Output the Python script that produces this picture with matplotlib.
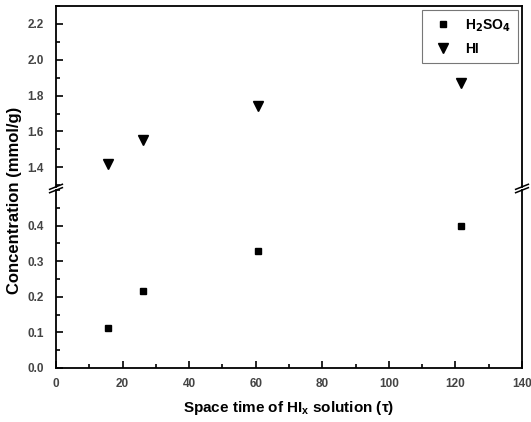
import numpy as np
import matplotlib.pyplot as plt
from matplotlib.ticker import MultipleLocator

plt.rcParams['font.family'] = ['Liberation Sans', 'DejaVu Sans']
plt.rcParams['font.weight'] = 'bold'

# data
space_time = [15.5, 26, 60.7, 121.8]
h2so4 = [0.113, 0.215, 0.328, 0.400]
hi = [1.42, 1.555, 1.74, 1.87]

fig = plt.figure(figsize=(5.31, 4.22), dpi=100)
W, H = 531, 422
left, right = 56 / W, 522 / W
ax_top = fig.add_axes([left, 1 - 187 / H, right - left, (187 - 6) / H])
ax_bot = fig.add_axes([left, 1 - 368 / H, right - left, (368 - 190) / H])

for ax in (ax_top, ax_bot):
    ax.plot(space_time, h2so4, 's', color='black', markersize=5, label='H$_2$SO$_4$')
    ax.plot(space_time, hi, 'v', color='black', markersize=7, label='HI')
    ax.set_xlim(0, 140)
    ax.xaxis.set_major_locator(MultipleLocator(20))
    ax.xaxis.set_minor_locator(MultipleLocator(10))
    ax.tick_params(which='both', direction='in', top=False, right=False,
                   labelsize=8.5, labelcolor='#444444', width=1.2)
    ax.tick_params(which='major', length=5)
    ax.tick_params(which='minor', length=3)
    ax.tick_params(axis='y', which='major', pad=9)
    ax.tick_params(axis='x', which='major', pad=7)
    for s in ax.spines.values():
        s.set_linewidth(1.3)

ax_top.set_ylim(1.29, 2.30)
ax_top.yaxis.set_major_locator(MultipleLocator(0.2))
ax_top.yaxis.set_minor_locator(MultipleLocator(0.1))
ax_top.spines['bottom'].set_visible(False)
ax_top.tick_params(axis='x', which='both', bottom=False, labelbottom=False)

ax_bot.set_ylim(0, 0.50)
ax_bot.yaxis.set_major_locator(MultipleLocator(0.1))
ax_bot.yaxis.set_minor_locator(MultipleLocator(0.05))
ax_bot.spines['top'].set_visible(False)
ax_bot.set_yticks([0.0, 0.1, 0.2, 0.3, 0.4])
ax_bot.yaxis.set_major_formatter(plt.FormatStrFormatter('%.1f'))
ax_top.yaxis.set_major_formatter(plt.FormatStrFormatter('%.1f'))

# break marks on both sides
for xs in (0, 1):
    for dy in (-0.004, 0.004):
        fig.add_artist(plt.Line2D(
            [left + (right - left) * xs - 0.012, left + (right - left) * xs + 0.012],
            [1 - 188.5 / H + dy - 0.006, 1 - 188.5 / H + dy + 0.006],
            color='black', lw=1.1))

ax_bot.set_xlabel('Space time of HI$_\\mathregular{x}$ solution (\u03c4)', fontsize=11,
                  fontweight='bold', labelpad=7)
fig.text(15 / W, 1 - 200 / H, 'Concentration (mmol/g)', rotation=90,
         ha='center', va='center', fontsize=12, fontweight='bold')

leg = ax_top.legend(loc='upper right', frameon=True, fancybox=False,
                    edgecolor='#555555', fontsize=10, handletextpad=0.6,
                    borderaxespad=0.3, labelspacing=0.6, borderpad=0.5)
leg.get_frame().set_linewidth(0.8)

fig.savefig('out.png', dpi=100)
